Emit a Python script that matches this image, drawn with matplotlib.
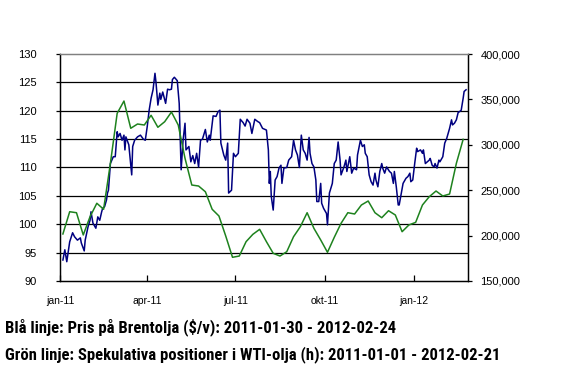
import matplotlib
matplotlib.use("Agg")
import matplotlib.pyplot as plt
from matplotlib import font_manager
import pandas as pd

# Brent price (left axis, $/barrel): days after 2011-01-01 and values
brent_days = [3,5,7,10,13,15,18,21,22,25,
              26,29,31,32,34,37,39,41,43,44,
              46,48,49,50,52,55,57,59,60,62,
              64,66,67,68,71,74,75,77,80,83,
              86,88,90,92,94,96,98,99,101,103,
              104,106,109,111,113,115,116,118,121,123,
              125,127,129,130,133,135,137,139,141,143,
              145,147,150,152,154,155,158,161,163,165,
              166,169,171,173,174,177,179,181,184,186,
              189,191,193,196,198,201,204,206,209,213,
              215,216,217,218,220,222,224,226,228,229,
              231,234,236,239,241,243,245,247,249,251,
              253,255,257,258,260,262,264,265,267,269,
              270,272,275,276,278,281,283,285,287,289,
              290,293,295,296,299,301,303,306,307,310,
              312,314,315,317,319,321,323,325,326,328,
              330,332,333,335,337,340,342,344,345,347,
              349,350,354,356,357,359,361,362,364,366,
              368,369,372,374,375,377,379,381,382,384,
              386,387,389,391,392,395,397,399,400,402,
              404,405,407,409,411,412,414,416,417,419]
brent_values = [93.7,95.5,93.4,96.9,98.5,97.8,97.2,97.6,96.7,95.3,
                97.2,99.6,100.7,102.2,100.2,99.3,101.3,100.7,102.2,102.8,
                103.1,104.3,105.5,106.0,110.7,111.9,111.9,116.3,115.4,116.0,
                114.8,115.7,113.1,115.4,114.0,108.7,113.7,114.8,115.4,115.7,
                115.0,114.8,117.2,120.1,122.2,123.7,126.6,125.1,121.0,123.1,
                122.0,123.3,121.3,123.8,123.7,123.8,125.5,125.9,125.3,121.3,
                109.6,114.8,117.8,113.1,113.7,111.0,112.1,110.7,112.5,110.1,
                114.8,115.0,116.7,114.5,115.7,114.8,119.1,119.0,119.8,120.1,
                114.3,112.2,111.3,114.3,105.5,106.0,112.5,111.9,112.5,118.5,
                117.9,117.3,118.5,117.8,116.0,118.5,118.1,117.9,116.9,116.6,
                113.1,107.2,109.3,104.9,102.5,107.8,108.4,109.9,110.4,107.2,
                109.9,110.0,111.3,111.9,114.8,113.1,112.2,110.0,115.7,113.1,
                112.5,111.3,115.3,112.5,110.7,110.1,107.8,104.0,104.0,107.2,
                103.7,102.8,101.9,99.9,105.5,107.2,110.7,111.3,114.5,111.3,
                108.7,110.1,111.3,109.3,111.9,109.0,109.9,109.6,112.2,114.8,
                113.7,114.0,112.5,111.9,108.7,107.5,106.9,109.0,107.8,106.6,
                109.3,110.7,109.9,109.0,110.1,109.3,109.0,107.2,109.3,106.6,
                103.4,103.4,107.2,107.8,108.1,108.4,109.0,107.5,107.8,110.7,
                113.4,112.8,113.1,112.5,113.1,110.7,111.0,111.3,111.6,110.4,
                110.1,110.7,109.9,111.3,111.0,111.9,114.3,115.1,115.7,116.9,
                118.4,117.5,117.8,118.4,119.8,119.8,120.1,122.2,123.4,123.7]

# Speculative WTI positions (right axis), weekly from 2011-01-04, in contracts
wti_start = "2011-01-04"
wti_values = [201800,226300,225200,200700,220800,235600,229000,279600,334700,348200,
              318200,322900,321800,332500,319300,325400,336100,321800,285100,255700,
              254600,248300,229000,221600,199600,176100,177500,193300,201400,206900,
              193300,180500,177500,182300,198800,209800,225200,208000,195200,181600,
              198100,213500,225200,223800,233700,238100,225200,219700,227400,222700,
              204300,211700,214600,233700,242800,249100,243600,245800,279600,306000]

left_ticks = [90, 95, 100, 105, 110, 115, 120, 125, 130]
right_ticks = [150000, 200000, 250000, 300000, 350000, 400000]
x_ticks = ["2011-01-01", "2011-04-01", "2011-07-01", "2011-10-01", "2012-01-01"]
x_labels = ["jan-11", "apr-11", "jul-11", "okt-11", "jan-12"]
caption1 = "Blå linje: Pris på Brentolja ($/v): 2011-01-30 - 2012-02-24"
caption2 = "Grön linje: Spekulativa positioner i WTI-olja (h): 2011-01-01 - 2012-02-21"

base = pd.Timestamp("2011-01-01")
brent_dates = [base + pd.Timedelta(days=d) for d in brent_days]
wti_dates = pd.date_range(wti_start, periods=len(wti_values), freq="7D")

plt.rcParams["font.family"] = ["Liberation Sans", "DejaVu Sans"]

# pick a condensed bold face for the caption if one is installed
fonts = font_manager.fontManager.ttflist
names = {f.name for f in fonts}
cap_family = "Liberation Sans"
cap_stretch = "normal"
for cand in ["Liberation Sans Narrow", "Roboto Condensed", "Open Sans Condensed",
             "Arial Narrow", "Noto Sans Display"]:
    if cand in names:
        cap_family = cand
        break
else:
    for f in fonts:
        if f.name in ("DejaVu Sans", "Noto Sans", "Open Sans", "Roboto") and \
                str(f.stretch) in ("condensed", "semi-condensed", "75", "87.5", "500") and \
                f.stretch not in (500, "normal"):
            cap_family = f.name
            cap_stretch = f.stretch
            break

fig = plt.figure(figsize=(5.63, 3.88), dpi=100)
ax = fig.add_axes([60/563, 1-281/388, 408/563, 227/388])
ax2 = ax.twinx()

ax.set_ylim(90, 130)
ax.set_yticks(left_ticks)
ax.set_yticklabels([str(t) for t in left_ticks])
for t in left_ticks[1:-1]:
    ax.axhline(t, color="black", lw=0.9, zorder=1)

ax.set_xlim(pd.Timestamp("2011-01-01"), pd.Timestamp("2012-02-26"))
ax.set_xticks([pd.Timestamp(s) for s in x_ticks])
ax.set_xticklabels(x_labels)

ax.plot(brent_dates, brent_values, color="#000080", lw=1.1, zorder=3)

ax2.set_ylim(150000, 400000)
ax2.set_yticks(right_ticks)
ax2.set_yticklabels([f"{t:,}" for t in right_ticks])
ax2.plot(wti_dates, wti_values, color="#1E821E", lw=1.1, zorder=3)

for a in (ax, ax2):
    a.spines["top"].set_color("#808080")
    a.spines["top"].set_linewidth(0.9)
    for s in ("left", "right", "bottom"):
        a.spines[s].set_color("black")
        a.spines[s].set_linewidth(0.9)

ax.tick_params(axis="y", direction="out", length=3, width=0.9, pad=14, labelsize=8)
ax.tick_params(axis="x", direction="in", length=4, width=0.9, pad=11, labelsize=7.5)
ax2.tick_params(axis="y", direction="out", length=3, width=0.9, pad=6, labelsize=8)

t1 = fig.text(5/563, 1-327/388, caption1, fontsize=11, fontweight="bold",
              family=[cap_family, "DejaVu Sans"], fontstretch=cap_stretch,
              va="center", ha="left")
t2 = fig.text(5/563, 1-355/388, caption2, fontsize=11, fontweight="bold",
              family=[cap_family, "DejaVu Sans"], fontstretch=cap_stretch,
              va="center", ha="left")

# size the caption so its width matches the reference (line 2 ~492 px)
fig.canvas.draw()
r = fig.canvas.get_renderer()
w2 = t2.get_window_extent(r).width
size = 11 * 492 / w2
t1.set_fontsize(size)
t2.set_fontsize(size)

fig.savefig("out.png", dpi=100)
